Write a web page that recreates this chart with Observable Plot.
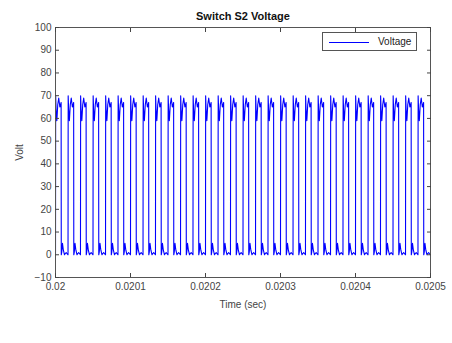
<!DOCTYPE html>
<html>
<head>
<meta charset="utf-8">
<script src="https://cdn.jsdelivr.net/npm/d3@7"></script>
<script src="https://cdn.jsdelivr.net/npm/@observablehq/plot@0.6"></script>
<style>
  html, body { margin: 0; padding: 0; background: #fff; }
  #wrap { position: relative; width: 452px; height: 343px; font-family: "Liberation Sans", Arial, sans-serif; }
  #legend { position: absolute; left: 322px; top: 32px; width: 95px; height: 19px; border: 1px solid #555; background: #fff; box-sizing: border-box; }
  #legend .ln { position: absolute; left: 6px; top: 9px; width: 40px; height: 0; border-top: 1px solid #0000ff; }
  #legend .tx { position: absolute; left: 55px; top: 3px; font-size: 10px; color: #222; }
</style>
</head>
<body>
<div id="wrap"><div id="legend"><div class="ln"></div><div class="tx">Voltage</div></div></div>
<script>
// Cycle start times (s), ~60 kHz switching
const cycleStarts = [
  0.0200000, 0.0200167, 0.0200333, 0.0200500, 0.0200667, 0.0200833,
  0.0201000, 0.0201167, 0.0201333, 0.0201500, 0.0201667, 0.0201833,
  0.0202000, 0.0202167, 0.0202333, 0.0202500, 0.0202667, 0.0202833,
  0.0203000, 0.0203167, 0.0203333, 0.0203500, 0.0203667, 0.0203833,
  0.0204000, 0.0204167, 0.0204333, 0.0204500, 0.0204667, 0.0204833
];
// One cycle's shape: offset in microseconds and voltage
const shapeOffsetUs = [0, 0.2, 0.8, 1.8, 3.0, 4.3, 5.8, 7.5, 7.7, 8.3, 9.3, 10.5, 12.0, 14.2, 16.5];
const shapeVolt     = [0, 70, 64, 59, 66, 69, 65, 67, 0, 1, 5, 2, 0, 1, 0];

const xTicks = [0.02, 0.0201, 0.0202, 0.0203, 0.0204, 0.0205];
const xTickLabels = ["0.02", "0.0201", "0.0202", "0.0203", "0.0204", "0.0205"];
const yTicks = [-10, 0, 10, 20, 30, 40, 50, 60, 70, 80, 90, 100];

const data = [];
for (const s of cycleStarts) {
  shapeOffsetUs.forEach((o, i) => data.push({t: s + o * 1e-6, v: shapeVolt[i]}));
}

const chart = Plot.plot({
  width: 452,
  height: 343,
  marginLeft: 55,
  marginRight: 22,
  marginTop: 27,
  marginBottom: 66,
  style: {fontFamily: "Liberation Sans, Arial, sans-serif", fontSize: "10px", color: "#444", background: "#fff"},
  x: {domain: [0.02, 0.0205]},
  y: {domain: [-10, 100]},
  marks: [
    Plot.line(data, {x: "t", y: "v", stroke: "#0000ff", strokeWidth: 1.1, clip: true}),
    Plot.frame({stroke: "#555"}),
    Plot.axisX({ticks: xTicks, tickFormat: (d, i) => xTickLabels[i], tickSize: -4, tickPadding: 9, label: "Time (sec)", labelAnchor: "center", labelArrow: "none", labelOffset: 30, fill: "#444"}),
    Plot.axisX({anchor: "top", ticks: xTicks, tickFormat: () => "", tickSize: -4, label: null}),
    Plot.axisY({ticks: yTicks, tickSize: -4, tickPadding: 8, label: "Volt", labelAnchor: "center", labelArrow: "none", labelOffset: 40, fill: "#444"}),
    Plot.axisY({anchor: "right", ticks: yTicks, tickFormat: () => "", tickSize: -4, label: null}),
    Plot.text(["Switch S2 Voltage"], {frameAnchor: "top", dy: -15, fontWeight: "bold", fontSize: 11, fill: "#111"})
  ]
});
document.getElementById("wrap").prepend(chart);
</script>
</body>
</html>
